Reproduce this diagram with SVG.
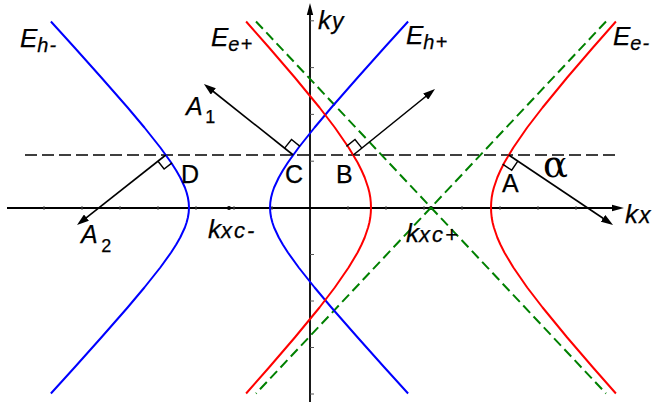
<svg xmlns="http://www.w3.org/2000/svg" width="655" height="405" viewBox="0 0 655 405">
<style>
.t{font-family:"Liberation Sans",Arial,sans-serif;fill:#000;stroke:#000;stroke-width:0.25px}
.i{font-style:italic}
.u{font-style:normal}
.c{fill:none;stroke-width:2;stroke-linejoin:round}
.blue{stroke:#0000ff}
.red{stroke:#ff0000}
.green{stroke:#008000;stroke-dasharray:10 5}
.ax{stroke:#000;stroke-width:1.8;fill:none}
.tick{stroke:#555;stroke-width:1}
.arr{stroke:#000;stroke-width:1.6;fill:none}
.sq{stroke:#000;stroke-width:1.4;fill:none}
.es{font-size:20px;letter-spacing:1px}
.ks{font-size:22px;letter-spacing:2px}
</style>
<defs>
<marker id="ah" markerWidth="12" markerHeight="8" refX="4" refY="4" orient="auto" markerUnits="userSpaceOnUse"><path d="M0,0 L12,4 L0,8 z" fill="#000"/></marker>
<marker id="axh" markerWidth="12" markerHeight="8" refX="4" refY="4" orient="auto" markerUnits="userSpaceOnUse"><path d="M0,0.8 L12,4 L0,7.2 z" fill="#000"/></marker>
</defs>
<g id="axes">
<path class="ax" d="M7,208 L616,208" marker-end="url(#axh)"/>
<path class="ax" d="M310,402 L310,11" marker-end="url(#axh)"/>
<path class="tick" d="M44,206V210M82,206V210M120,206V210M158,206V210M196,206V210M234,206V210M272,206V210M348,206V210M386,206V210M424,206V210M462,206V210M500,206V210M538,206V210M576,206V210"/>
<path class="tick" d="M310,20.8H314M310,67.6H314M310,114.4H314M310,161.2H314M310,254.5H314M310,301H314M310,347.5H314M310,394H314"/>
<path d="M25,155 L618,155" stroke="#000" stroke-width="1.3" stroke-dasharray="12 5" fill="none"/>
<circle cx="229" cy="208" r="2" fill="#000"/>
<circle cx="431" cy="208" r="2" fill="#000"/>
</g>
<g id="asymptotes">
<path class="c green" d="M256,21.5 L606,393.5"/>
<path class="c green" d="M606,21.5 L256,393.5"/>
</g>
<g id="Eh-">
<path class="c blue" d="M50.9,21.5 L74.5,47.5 L101.3,77.5 L127.6,107.5 L144.4,127.5 L160.3,147.5 L171.1,162.5 L176.2,170.5 L180.2,177.5 L184.9,187.5 L186.6,192.5 L187.9,197.5 L188.7,202.5 L189,207.5 L188.7,212.5 L187.9,217.5 L186.6,222.5 L184.9,227.5 L180.2,237.5 L176.2,244.5 L171.1,252.5 L160.3,267.5 L144.4,287.5 L127.6,307.5 L101.3,337.5 L74.5,367.5 L50.9,393.5"/>
<text class="t i" x="20" y="47" font-size="26">E<tspan class="es" dy="5">h-</tspan></text>
</g>
<g id="Eh+">
<path class="c blue" d="M408.1,21.5 L384.5,47.5 L357.7,77.5 L331.4,107.5 L314.6,127.5 L298.7,147.5 L287.9,162.5 L282.8,170.5 L278.8,177.5 L274.1,187.5 L272.4,192.5 L271.1,197.5 L270.3,202.5 L270,207.5 L270.3,212.5 L271.1,217.5 L272.4,222.5 L274.1,227.5 L278.8,237.5 L282.8,244.5 L287.9,252.5 L298.7,267.5 L314.6,287.5 L331.4,307.5 L357.7,337.5 L384.5,367.5 L408.1,393.5"/>
<text class="t i" x="406" y="44" font-size="26">E<tspan class="es" dy="5">h+</tspan></text>
</g>
<g id="Ee+">
<path class="c red" d="M246.1,21.5 L269,47.5 L294.8,77.5 L319.5,107.5 L334.8,127.5 L348.6,147.5 L357.6,162.5 L361.6,170.5 L364.7,177.5 L368.1,187.5 L369.4,192.5 L370.3,197.5 L370.8,202.5 L371,207.5 L370.8,212.5 L370.3,217.5 L369.4,222.5 L368.1,227.5 L364.7,237.5 L361.6,244.5 L357.6,252.5 L348.6,267.5 L334.8,287.5 L319.5,307.5 L294.8,337.5 L269,367.5 L246.1,393.5"/>
<text class="t i" x="211" y="46" font-size="26">E<tspan class="es" dy="5">e+</tspan></text>
</g>
<g id="Ee-">
<path class="c red" d="M615.9,21.5 L593,47.5 L567.2,77.5 L542.6,107.5 L527.2,127.5 L513.4,147.5 L504.4,162.5 L500.4,170.5 L497.3,177.5 L493.9,187.5 L492.6,192.5 L491.7,197.5 L491.2,202.5 L491,207.5 L491.2,212.5 L491.7,217.5 L492.6,222.5 L493.9,227.5 L497.3,237.5 L500.4,244.5 L504.4,252.5 L513.4,267.5 L527.2,287.5 L542.6,307.5 L567.2,337.5 L593,367.5 L615.9,393.5"/>
<text class="t i" x="613" y="45" font-size="26">E<tspan class="es" dy="5">e-</tspan></text>
</g>
<g id="connectors">
<path class="arr" d="M293.2,155 L210.2,89" marker-end="url(#ah)"/>
<path class="arr" d="M353.3,155 L428.8,94" marker-end="url(#ah)"/>
<path class="arr" d="M508.7,155 L606.4,220.5" marker-end="url(#ah)"/>
<path class="arr" d="M165.8,155 L83.3,220.1" marker-end="url(#ah)"/>
<path class="sq" d="M284.6,148.1 L291.5,139.5 L300,146.4"/>
<path class="sq" d="M361.9,148.1 L355,139.5 L346.4,146.4"/>
<path class="sq" d="M517.8,161.1 L511.7,170.2 L502.6,164.1"/>
<path class="sq" d="M158,161.2 L164.1,169 L172,162.9"/>
</g>
<g id="labels">
<text class="t i" x="318" y="29" font-size="26">k<tspan font-size="23" dx="1">y</tspan></text>
<text class="t i" x="625" y="223" font-size="26">k<tspan font-size="23" dx="1">x</tspan></text>
<text class="t i" x="208" y="238" font-size="26">k<tspan class="ks">xc-</tspan></text>
<text class="t i" x="406" y="242" font-size="26">k<tspan class="ks">xc+</tspan></text>
<text class="t i" x="186" y="115" font-size="25">A<tspan class="u" font-size="18" dx="2.5" dy="8">1</tspan></text>
<text class="t i" x="81" y="243" font-size="25">A<tspan class="u" font-size="18" dx="3.5" dy="9">2</tspan></text>
<text class="t" x="181" y="183" font-size="25">D</text>
<text class="t" x="285" y="183" font-size="25">C</text>
<text class="t" x="336" y="183" font-size="25">B</text>
<text class="t" x="502" y="192" font-size="25">A</text>
<text x="543" y="177" font-size="37" font-family="'DejaVu Serif','Liberation Serif',serif" fill="#000">α</text>
</g>
</svg>
